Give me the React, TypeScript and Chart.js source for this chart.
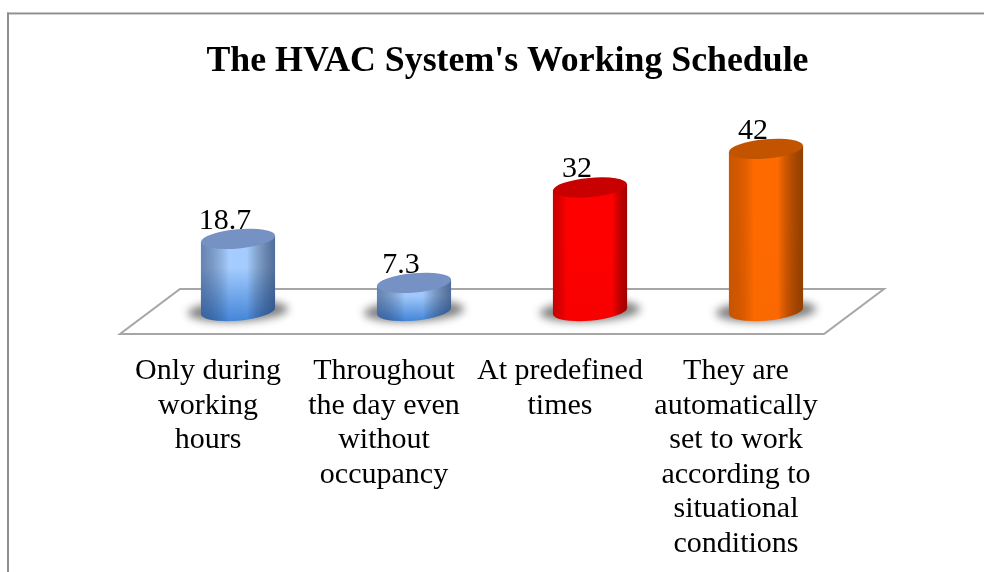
import React, { useEffect, useRef } from "react";
import { Chart, registerables } from "chart.js";

Chart.register(...registerables);

const TITLE = "The HVAC System's Working Schedule";
const categories: string[][] = [
  ["Only during", "working", "hours"],
  ["Throughout", "the day even", "without", "occupancy"],
  ["At predefined", "times"],
  ["They are", "automatically", "set to work", "according to", "situational", "conditions"],
];
const values = [18.7, 7.3, 32, 42];
const valueLabels = ["18.7", "7.3", "32", "42"];
const FONT = "'Liberation Serif', serif";

type Look = {
  top: string;
  upper: string;
  lower: string;
  edgeL: string;
  edgeR: string;
  stopL: number;
  stopR: number;
};
const looks: Look[] = [
  { top: "#7692c4", upper: "#a4ccff", lower: "#4586d8", edgeL: "rgba(40,62,105,0.5)", edgeR: "rgba(30,52,95,0.62)", stopL: 0.38, stopR: 0.62 },
  { top: "#7692c4", upper: "#a0c8fc", lower: "#4586d8", edgeL: "rgba(40,62,105,0.5)", edgeR: "rgba(30,52,95,0.62)", stopL: 0.38, stopR: 0.62 },
  { top: "#c80000", upper: "#ff0000", lower: "#f80000", edgeL: "rgba(110,0,0,0.35)", edgeR: "rgba(90,0,0,0.55)", stopL: 0.18, stopR: 0.8 },
  { top: "#c25400", upper: "#ff6a00", lower: "#fb6800", edgeL: "rgba(120,55,0,0.38)", edgeR: "rgba(95,45,0,0.68)", stopL: 0.34, stopR: 0.66 },
];
const fills = looks.map((l) => l.upper);

const TILT = -0.09;
const RX = 37.2;
const RY = 9.6;

const scenePlugin = {
  id: "scene",
  beforeDraw(chart: any) {
    const { ctx, width, height } = chart;
    ctx.save();
    ctx.fillStyle = "#ffffff";
    ctx.fillRect(0, 0, width, height);
    ctx.fillStyle = "#8e8e8e";
    ctx.fillRect(7, 12.5, width - 7, 1.6);
    ctx.fillRect(7, 12.5, 2, height - 12.5);
    ctx.fillStyle = "#c8c8c8";
    ctx.fillRect(9, 14, width - 9, 0.8);
    ctx.restore();
  },
  afterLayout(chart: any) {
    // The title of the reference sits a little right of the page centre.
    if (chart.titleBlock) {
      chart.titleBlock.left = 31;
      chart.titleBlock.right = chart.width;
    }
  },
  beforeDatasetsDraw(chart: any) {
    const { ctx, chartArea: a } = chart;
    ctx.save();
    ctx.beginPath();
    ctx.moveTo(a.left - 30, a.bottom + 23);
    ctx.lineTo(a.right - 30, a.bottom + 23);
    ctx.lineTo(a.right + 30, a.bottom - 22);
    ctx.lineTo(a.left + 30, a.bottom - 22);
    ctx.closePath();
    ctx.strokeStyle = "#a6a6a6";
    ctx.lineWidth = 2;
    ctx.stroke();
    ctx.restore();
  },
  beforeDatasetDraw(chart: any, args: any) {
    const { ctx } = chart;
    const meta = chart.getDatasetMeta(args.index);
    meta.data.forEach((bar: any, i: number) => {
      const { x, y, base } = bar.getProps(["x", "y", "base"], true);
      const look = looks[i];
      const t0 = Math.atan(-(RY / RX) * Math.tan(TILT));
      const px = (cy: number, t: number) => ({
        x: x + RX * Math.cos(t) * Math.cos(TILT) - RY * Math.sin(t) * Math.sin(TILT),
        y: cy + RX * Math.cos(t) * Math.sin(TILT) + RY * Math.sin(t) * Math.cos(TILT),
      });
      const halfW = px(0, t0).x - x;

      ctx.save();
      // soft cast shadow on the floor
      ctx.filter = "blur(4.5px)";
      ctx.fillStyle = "rgba(95,95,95,0.8)";
      ctx.beginPath();
      ctx.ellipse(x, base, RX + 13, 10.5, TILT / 2, 0, Math.PI * 2);
      ctx.fill();
      ctx.filter = "none";

      // cylinder wall
      const tr = px(y, t0);
      const br = px(base, t0);
      const tl = px(y, t0 + Math.PI);
      const wall = () => {
        ctx.beginPath();
        ctx.moveTo(tr.x, tr.y);
        ctx.lineTo(br.x, br.y);
        ctx.ellipse(x, base, RX, RY, TILT, t0, t0 + Math.PI, false);
        ctx.lineTo(tl.x, tl.y);
        ctx.closePath();
      };
      const vert = ctx.createLinearGradient(0, y, 0, base + RY);
      vert.addColorStop(0, look.upper);
      vert.addColorStop(0.35, look.upper);
      vert.addColorStop(1, look.lower);
      wall();
      ctx.fillStyle = vert;
      ctx.fill();
      const side = ctx.createLinearGradient(x - halfW, 0, x + halfW, 0);
      side.addColorStop(0, look.edgeL);
      side.addColorStop(look.stopL, "rgba(0,0,0,0)");
      side.addColorStop(look.stopR, "rgba(0,0,0,0)");
      side.addColorStop(1, look.edgeR);
      wall();
      ctx.fillStyle = side;
      ctx.fill();

      // top cap
      ctx.beginPath();
      ctx.ellipse(x, y, RX, RY, TILT, 0, Math.PI * 2);
      ctx.fillStyle = look.top;
      ctx.fill();

      // value label
      ctx.fillStyle = "#000000";
      ctx.font = `30px ${FONT}`;
      ctx.textAlign = "center";
      ctx.textBaseline = "alphabetic";
      ctx.fillText(valueLabels[i], x - 13, y - 10);
      ctx.restore();
    });
    return false;
  },
};

export default function App() {
  const ref = useRef<HTMLCanvasElement | null>(null);
  useEffect(() => {
    document.body.style.margin = "0";
    const chart = new Chart(ref.current as HTMLCanvasElement, {
      type: "bar",
      data: {
        labels: categories as any,
        datasets: [
          {
            data: values,
            backgroundColor: fills,
            categoryPercentage: 1,
            barPercentage: 0.42,
          },
        ],
      },
      options: {
        responsive: false,
        animation: false,
        layout: { padding: { left: 150, right: 130, top: 0, bottom: 0 } },
        plugins: {
          legend: { display: false },
          tooltip: { enabled: false },
          title: {
            display: true,
            text: TITLE,
            color: "#000000",
            font: { family: FONT, size: 35.8, weight: "bold", lineHeight: "42px" },
            padding: { top: 41, bottom: 35 },
          },
        },
        scales: {
          x: {
            grid: { display: false },
            border: { display: false },
            afterFit(scale: any) {
              scale.height = 261;
            },
            ticks: {
              color: "#000000",
              autoSkip: false,
              maxRotation: 0,
              minRotation: 0,
              labelOffset: -30,
              padding: 35,
              font: { family: FONT, size: 30, lineHeight: "34.5px" },
            },
          },
          y: { display: false, min: 0, max: 50 },
        },
      },
      plugins: [scenePlugin],
    } as any);
    return () => chart.destroy();
  }, []);
  return (
    <canvas
      ref={ref}
      width={984}
      height={572}
      style={{ display: "block", width: 984, height: 572 }}
    />
  );
}
